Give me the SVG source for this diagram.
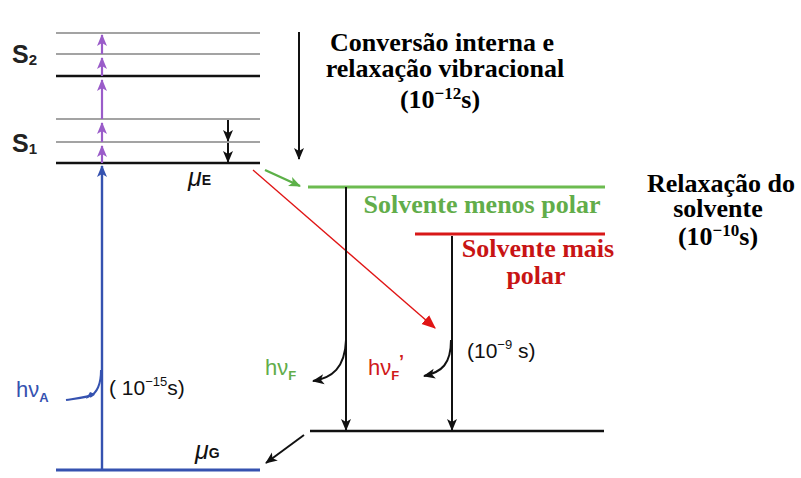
<svg xmlns="http://www.w3.org/2000/svg" width="801" height="478" viewBox="0 0 801 478">
<style>
.serif{font-family:"Liberation Serif","Times New Roman",serif;font-weight:bold;font-size:26px;text-anchor:middle}
.sans{font-family:"Liberation Sans",Arial,sans-serif}
.gray{stroke:#a3a3a3;stroke-width:2.2;fill:none}
.blk{stroke:#111;stroke-width:2.6;fill:none}
.ar{stroke:#111;stroke-width:2;fill:none}
</style>
<defs>
<marker id="hk" markerUnits="userSpaceOnUse" markerWidth="12" markerHeight="12" viewBox="0 0 12 12" refX="11" refY="6" orient="auto"><path d="M0,1 L12,6 L0,11 L3,6 z" fill="#111"/></marker>
<marker id="hp" markerUnits="userSpaceOnUse" markerWidth="12" markerHeight="12" viewBox="0 0 12 12" refX="11" refY="6" orient="auto"><path d="M0,1 L12,6 L0,11 L3,6 z" fill="#9a5cc9"/></marker>
<marker id="hb" markerUnits="userSpaceOnUse" markerWidth="12" markerHeight="12" viewBox="0 0 12 12" refX="11" refY="6" orient="auto"><path d="M0,1 L12,6 L0,11 L3,6 z" fill="#3552b0"/></marker>
<marker id="hr" markerUnits="userSpaceOnUse" markerWidth="14" markerHeight="14" viewBox="0 0 12 12" refX="11" refY="6" orient="auto"><path d="M0,1 L12,6 L0,11 z" fill="#e01515"/></marker>
<marker id="hg" markerUnits="userSpaceOnUse" markerWidth="12" markerHeight="12" viewBox="0 0 12 12" refX="11" refY="6" orient="auto"><path d="M0,1 L12,6 L0,11 L3,6 z" fill="#5cb048"/></marker>
</defs>
<rect width="801" height="478" fill="#fff"/>

<g id="levels">
<line class="gray" x1="56" y1="33" x2="260" y2="33"/>
<line class="gray" x1="56" y1="54" x2="260" y2="54"/>
<line class="blk" x1="56" y1="76" x2="260" y2="76"/>
<line class="gray" x1="56" y1="119" x2="260" y2="119"/>
<line class="gray" x1="56" y1="142" x2="260" y2="142"/>
<line class="blk" x1="56" y1="163" x2="260" y2="163"/>
<line x1="56" y1="470" x2="260" y2="470" stroke="#3552b0" stroke-width="3"/>
<line x1="308" y1="187" x2="605" y2="187" stroke="#6cbb50" stroke-width="3.2"/>
<line x1="415" y1="234" x2="605" y2="234" stroke="#d81818" stroke-width="3.2"/>
<line class="blk" x1="310" y1="431" x2="604" y2="431"/>
</g>

<g id="labels">
<text class="sans" x="12" y="63" font-size="25" font-weight="bold" fill="#222">S<tspan font-size="15" dy="2">2</tspan></text>
<text class="sans" x="12" y="152" font-size="25" font-weight="bold" fill="#222">S<tspan font-size="15" dy="2">1</tspan></text>
<text class="sans" x="188" y="186" font-size="25" font-style="italic" fill="#111">μ<tspan font-size="14" font-style="normal" font-weight="bold" dy="-1">E</tspan></text>
<text class="sans" x="195" y="459" font-size="25" font-style="italic" fill="#111">μ<tspan font-size="14" font-style="normal" font-weight="bold" dy="-1">G</tspan></text>
<text class="serif" x="442" y="51">Conversão interna e</text>
<text class="serif" x="445" y="77">relaxação vibracional</text>
<text class="serif" x="440" y="108">(10<tspan font-size="17" dy="-9">−12</tspan><tspan dy="9">s)</tspan></text>
<text class="serif" x="721" y="192">Relaxação do</text>
<text class="serif" x="718" y="217">solvente</text>
<text class="serif" x="718" y="245">(10<tspan font-size="17" dy="-9">−10</tspan><tspan dy="9">s)</tspan></text>
<text class="serif" x="482" y="213" fill="#62ad4a" font-size="26.5">Solvente menos polar</text>
<text class="serif" x="538" y="257" fill="#c81414" font-size="26.5">Solvente mais</text>
<text class="serif" x="536" y="284" fill="#c81414" font-size="26.5">polar</text>
<text class="sans" x="16" y="397" font-size="22" fill="#3552b0">hν<tspan font-size="13" font-weight="bold" dy="5">A</tspan></text>
<text class="sans" x="109" y="395" font-size="21" fill="#111">( 10<tspan font-size="13" dy="-9">−15</tspan><tspan dy="9">s)</tspan></text>
<text class="sans" x="265" y="375" font-size="22" fill="#62ad4a">hν<tspan font-size="13" font-weight="bold" dy="5">F</tspan></text>
<text class="sans" x="368" y="375" font-size="22" fill="#d01a1a">hν<tspan font-size="13" font-weight="bold" dy="5">F</tspan></text>
<text class="sans" x="399" y="368" font-size="18" font-weight="bold" fill="#d01a1a">’</text>
<text class="sans" x="467" y="358" font-size="21" fill="#111">(10<tspan font-size="13" dy="-9">−9</tspan><tspan dy="9"> s)</tspan></text>
</g>

<g id="connectors">
<line x1="102" y1="163" x2="102" y2="146" stroke="#9a5cc9" stroke-width="2.2" marker-end="url(#hp)"/>
<line x1="102" y1="142" x2="102" y2="123" stroke="#9a5cc9" stroke-width="2.2" marker-end="url(#hp)"/>
<line x1="102" y1="119" x2="102" y2="80" stroke="#9a5cc9" stroke-width="2.2" marker-end="url(#hp)"/>
<line x1="102" y1="76" x2="102" y2="58" stroke="#9a5cc9" stroke-width="2.2" marker-end="url(#hp)"/>
<line x1="102" y1="54" x2="102" y2="35" stroke="#9a5cc9" stroke-width="2.2" marker-end="url(#hp)"/>
<line x1="102" y1="470" x2="102" y2="166" stroke="#3552b0" stroke-width="2.4" marker-end="url(#hb)"/>
<path d="M66,400 C80,398 90,397 94,394" stroke="#3552b0" stroke-width="2.2" fill="none"/>
<path d="M86,399 L95,394 L90,392 z" fill="#3552b0"/>
<path d="M101,370 C101,385 97,392 90,397" stroke="#3552b0" stroke-width="2" fill="none"/>
<line class="ar" x1="228" y1="120" x2="228" y2="141" marker-end="url(#hk)"/>
<line class="ar" x1="228" y1="143" x2="228" y2="162" marker-end="url(#hk)"/>
<line class="ar" x1="299" y1="32" x2="299" y2="159" marker-end="url(#hk)"/>
<line x1="265" y1="170" x2="300" y2="186" stroke="#5cb048" stroke-width="2.4" marker-end="url(#hg)"/>
<line x1="253" y1="170" x2="435" y2="328" stroke="#e01515" stroke-width="1.4" marker-end="url(#hr)"/>
<line class="ar" x1="346" y1="187" x2="346" y2="430" marker-end="url(#hk)"/>
<line class="ar" x1="452" y1="236" x2="452" y2="430" marker-end="url(#hk)"/>
<path class="ar" d="M346,340 C345,368 332,378 313,381" marker-end="url(#hk)"/>
<path class="ar" d="M451,340 C451,364 442,372 424,376" marker-end="url(#hk)"/>
<line class="ar" x1="304" y1="435" x2="266" y2="463" marker-end="url(#hk)"/>
</g>
</svg>
